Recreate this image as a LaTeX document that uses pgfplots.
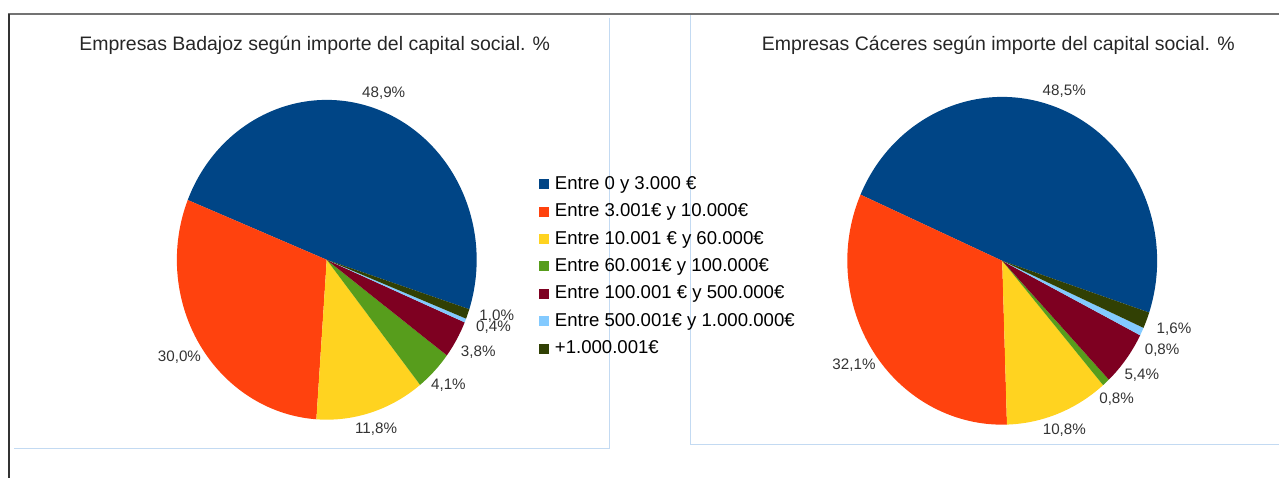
\documentclass[border=0pt]{standalone}
\usepackage{pgfplots}
\pgfplotsset{compat=1.18}
\usepackage{pgfplotstable}
\usepackage{fontspec}
\setmainfont{Liberation Sans}

\definecolor{c1}{HTML}{004586}
\definecolor{c2}{HTML}{FF420E}
\definecolor{c3}{HTML}{FFD320}
\definecolor{c4}{HTML}{579D1C}
\definecolor{c5}{HTML}{7E0021}
\definecolor{c6}{HTML}{83CAFF}
\definecolor{c7}{HTML}{314004}
\definecolor{labtext}{HTML}{333333}
\definecolor{panel}{RGB}{195,218,242}

% percentages, slice colour, label angle offset (degrees)
\pgfplotstableread{
pct  col dla
48.9 c1  0
30.0 c2  0
11.8 c3  0
4.1  c4  0
3.8  c5  0
0.4  c6  1.5
1.0  c7  2.5
}\badajoz

\pgfplotstableread{
pct  col dla
48.5 c1  0
32.1 c2  0
10.8 c3  0
0.8  c4  -1
5.4  c5  -1
0.8  c6  -2.4
1.6  c7  0.5
}\caceres

\newcommand\labfont{\fontsize{7.6}{9}\selectfont}

% #1 table, #2 cx, #3 cy, #4 rx, #5 ry (axis units; 1 unit = 0.5pt), #6 start angle
\newcommand\piechart[6]{%
  \pgfplotstablegetrowsof{#1}%
  \pgfmathtruncatemacro\lastrow{\pgfplotsretval-1}%
  \pgfmathsetmacro\curang{#6}%
  \pgfplotsforeachungrouped \i in {0,...,\lastrow}{%
    \pgfplotstablegetelem{\i}{pct}\of{#1}\let\pct\pgfplotsretval
    \pgfplotstablegetelem{\i}{col}\of{#1}\let\col\pgfplotsretval
    \pgfplotstablegetelem{\i}{dla}\of{#1}\let\dla\pgfplotsretval
    \pgfmathsetmacro\endang{\curang+3.6*\pct}%
    \pgfmathsetmacro\midang{(\curang+\endang)/2+\dla}%
    \pgfmathsetmacro\sx{#2+#4*cos(\curang)}%
    \pgfmathsetmacro\sy{#3+#5*sin(\curang)}%
    \pgfmathsetmacro\lx{#2+1.05*#4*cos(\midang)}%
    \pgfmathsetmacro\ly{#3+1.05*#5*sin(\midang)}%
    \pgfmathtruncatemacro\lanchor{\midang+180}%
    \pgfmathsetmacro\rxpt{#4*0.5}%
    \pgfmathsetmacro\rypt{#5*0.5}%
    \edef\temp{%
      \noexpand\fill[\col] (axis cs:#2,#3) -- (axis cs:\sx,\sy) arc[start angle=\curang, end angle=\endang, x radius=\rxpt pt, y radius=\rypt pt] -- cycle;
      \noexpand\node[anchor=\lanchor, font=\noexpand\labfont, text=labtext, inner sep=1pt] at (axis cs:\lx,\ly) {\noexpand\pgfmathprintnumber[fixed,fixed zerofill,precision=1,use comma,assume math mode=true]{\pct}\noexpand\%};
    }%
    \temp
    \let\curang\endang
  }%
}

\begin{document}
\begin{tikzpicture}
\begin{axis}[
  scale only axis, width=640pt, height=239pt,
  xmin=0, xmax=1280, ymin=0, ymax=478,
  hide axis, clip=false,
  legend image code/.code={\fill[#1,draw=none] (0pt,-2.5pt) rectangle (5pt,2.5pt);},
  legend style={at={(axis cs:539,303)}, anchor=north west, draw=none, fill=none,
    inner sep=0pt, font=\fontsize{9.3}{11}\selectfont, row sep=4.7pt,
    nodes={inner sep=0pt, text height=7pt, text depth=2pt},
    /tikz/every odd column/.append style={column sep=3pt}},
  legend cell align=left,
]
\path (axis cs:0,0) rectangle (axis cs:1280,478);

% frames
\draw[panel, line width=0.6pt] (axis cs:610,460) -- (axis cs:610,29) -- (axis cs:14,29);
\draw[panel, line width=0.6pt] (axis cs:691,463) -- (axis cs:691,33) -- (axis cs:1280,33);
\draw[black!55, line width=1pt] (axis cs:8,464) -- (axis cs:1280,464);
\draw[black!80, line width=0.7pt] (axis cs:9,464) -- (axis cs:9,0);

% titles
\node[font=\fontsize{9.75}{11}\selectfont, text=black!85] at (axis cs:315,433)
  {Empresas Badajoz según importe del capital social. \%};
\node[font=\fontsize{9.75}{11}\selectfont, text=black!85] at (axis cs:999,433)
  {Empresas Cáceres según importe del capital social. \%};

\piechart{\badajoz}{327}{218}{150}{160}{-18}
\piechart{\caceres}{1003}{217}{155}{164}{-18.4}

\addlegendimage{fill=c1}\addlegendentry{Entre 0 y 3.000 €}
\addlegendimage{fill=c2}\addlegendentry{Entre 3.001€ y 10.000€}
\addlegendimage{fill=c3}\addlegendentry{Entre 10.001 € y 60.000€}
\addlegendimage{fill=c4}\addlegendentry{Entre 60.001€ y 100.000€}
\addlegendimage{fill=c5}\addlegendentry{Entre 100.001 € y 500.000€}
\addlegendimage{fill=c6}\addlegendentry{Entre 500.001€ y 1.000.000€}
\addlegendimage{fill=c7}\addlegendentry{+1.000.001€}
\end{axis}
\end{tikzpicture}
\end{document}
